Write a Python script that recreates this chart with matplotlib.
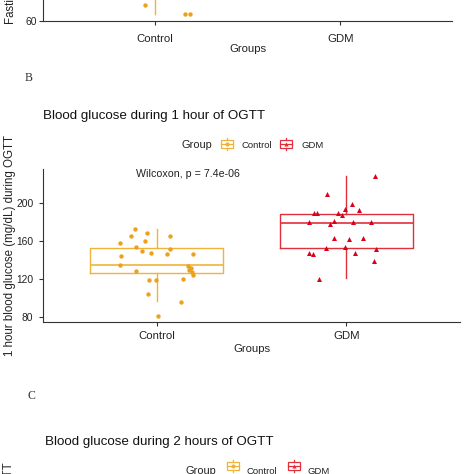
import matplotlib
matplotlib.use("Agg")
import matplotlib.pyplot as plt
from matplotlib.patches import Rectangle
from matplotlib.lines import Line2D

plt.rcParams['font.family'] = ['Liberation Sans', 'DejaVu Sans']

W = H = 474
def fx(x): return x / W
def fy(y): return 1 - y / H

groups = ["Control", "GDM"]
CTRL_PT = "#EBA11A"
CTRL_LN = "#F0B33A"
GDM_PT = "#D9001B"
GDM_LN = "#E0303C"
AX_COL = "#333333"
TXT_COL = "#222222"

# ---- Panel A (fasting glucose), only bottom part visible ----
a_ctrl_vals = [65.4, 62.3, 62.3]
a_ctrl_jit = [-0.052, 0.164, 0.190]
a_stats = [dict(med=80, q1=74, q3=86, whislo=62.3, whishi=100),
           dict(med=90, q1=84, q3=98, whislo=75, whishi=120)]
a_yticks = [60]

# ---- Panel B (1 hour OGTT) ----
b_ctrl_vals = [173, 168.4, 165.3, 165.3, 158.3, 160, 153.7, 151.2, 149.1, 147.3,
               146.6, 146.6, 144.1, 134.6, 133.2, 131.1, 128.9, 127.9, 127.1, 124.4,
               118.3, 119, 120.1, 104.2, 95.4, 80.5]
b_ctrl_jit = [-0.115, -0.053, -0.136, 0.070, -0.194, -0.062, -0.111, 0.070, -0.076, -0.032,
              0.053, 0.190, -0.188, -0.194, 0.167, 0.179, 0.172, -0.111, 0.185, 0.190,
              -0.041, -0.004, 0.137, -0.047, 0.128, 0.008]
b_gdm_vals = [228.6, 209.2, 198.9, 192.6, 193.3, 189.7, 189, 189, 187.6, 179.9,
              180.9, 178.4, 179.9, 180.2, 163.6, 161.8, 163.6, 152.6, 153.7, 151.2,
              147.6, 145.9, 147.6, 138.5, 120.1]
b_gdm_jit = [0.149, -0.102, 0.032, 0.065, -0.007, -0.169, -0.157, -0.044, -0.025, -0.199,
             -0.065, -0.088, 0.035, 0.132, -0.067, 0.012, 0.086, -0.108, -0.005, 0.155,
             -0.199, -0.178, 0.044, 0.148, -0.146]
b_stats = [dict(med=135, q1=126.5, q3=152.6, whislo=96, whishi=173),
           dict(med=178.5, q1=152.6, q3=188.3, whislo=120.8, whishi=228.6)]
b_yticks = [80, 120, 160, 200]
b_pvalue = "Wilcoxon, p = 7.4e-06"

fig = plt.figure(figsize=(4.74, 4.74), dpi=100)
fig.patch.set_facecolor("white")


def style_axes(ax, ylim, yticks, ypad, xpad, ytick_size=7.4, xtick_size=8.2):
    ax.set_xlim(0.4, 2.6)
    ax.set_ylim(*ylim)
    ax.set_yticks(yticks)
    ax.set_xticks([1, 2])
    ax.set_xticklabels(groups)
    for s in ["top", "right"]:
        ax.spines[s].set_visible(False)
    for s in ["left", "bottom"]:
        ax.spines[s].set_color(AX_COL)
        ax.spines[s].set_linewidth(0.8)
    ax.tick_params(axis="y", length=3, width=0.8, color=AX_COL, labelcolor=TXT_COL,
                   labelsize=ytick_size, pad=ypad)
    ax.tick_params(axis="x", length=3, width=0.8, color=AX_COL, labelcolor=TXT_COL,
                   labelsize=xtick_size, pad=xpad)
    ax.set_facecolor("none")


def draw_box(ax, stats):
    bp = ax.bxp(stats, positions=[1, 2], widths=0.7, showfliers=False, showcaps=False,
                patch_artist=False, manage_ticks=False)
    cols = [CTRL_LN, GDM_LN]
    for i, c in enumerate(cols):
        bp["boxes"][i].set(color=c, linewidth=1.0)
        bp["medians"][i].set(color=c, linewidth=1.2)
        bp["whiskers"][2 * i].set(color=c, linewidth=1.0)
        bp["whiskers"][2 * i + 1].set(color=c, linewidth=1.0)
    return bp


# Panel A axes (mostly above the visible area)
ax_a = fig.add_axes([fx(43), fy(21), fx(452) - fx(43), 321 / H])
draw_box(ax_a, a_stats)
ax_a.scatter([1 + j for j in a_ctrl_jit], a_ctrl_vals, s=10, color=CTRL_PT, marker="o",
             linewidths=0, zorder=3, clip_on=False)
style_axes(ax_a, (59.9, 59.9 + 321 / 3.0), a_yticks, ypad=1.5, xpad=6)
fig.text(fx(247.5), fy(51.5), "Groups", ha="center", va="baseline", fontsize=8.1, color=TXT_COL)
fig.text(fx(11), fy(24), "Fasting blood glucose (mg/dL)", rotation=90, ha="center", va="bottom",
         fontsize=8.3, color=TXT_COL)

# Panel labels
fig.text(fx(25), fy(81), "B", family=["Liberation Serif"], fontsize=8.5, ha="left", va="baseline",
         color="#333333")
fig.text(fx(27), fy(399), "C", family=["Liberation Serif"], fontsize=8.5, ha="left", va="baseline",
         color="#333333")

# Panel B
ax_b = fig.add_axes([fx(43), fy(322), fx(460) - fx(43), 153 / H])
draw_box(ax_b, b_stats)
ax_b.scatter([1 + j for j in b_ctrl_jit], b_ctrl_vals, s=10, color=CTRL_PT, marker="o",
             linewidths=0, zorder=3)
ax_b.scatter([2 + j for j in b_gdm_jit], b_gdm_vals, s=13, color=GDM_PT, marker="^",
             linewidths=0, zorder=3)
style_axes(ax_b, (74.3, 236), b_yticks, ypad=4.0, xpad=3.5)
fig.text(fx(251.5), fy(351.5), "Groups", ha="center", va="baseline", fontsize=8.1, color=TXT_COL)
fig.text(fx(10), fy(245), "1 hour blood glucose (mg/dL) during OGTT", rotation=90, ha="center",
         va="center", fontsize=8.3, color=TXT_COL)
fig.text(fx(43), fy(118.5), "Blood glucose during 1 hour of OGTT", ha="left", va="baseline",
         fontsize=9.6, color="#111111")
fig.text(fx(136), fy(177), b_pvalue, ha="left", va="baseline", fontsize=7.7, color=TXT_COL)


def legend_key(x0, y0, w, h, col, marker):
    cx = x0 + w / 2
    fig.add_artist(Rectangle((fx(x0 + 1), fy(y0 + h * 0.8)), (w - 2) / W, h * 0.6 / H,
                             fill=False, edgecolor=col, linewidth=0.9, transform=fig.transFigure))
    fig.add_artist(Line2D([fx(x0 + 1), fx(x0 + w - 1)], [fy(y0 + h / 2)] * 2, color=col,
                          linewidth=0.9, transform=fig.transFigure))
    fig.add_artist(Line2D([fx(cx)] * 2, [fy(y0), fy(y0 + h * 0.2)], color=col,
                          linewidth=0.9, transform=fig.transFigure))
    fig.add_artist(Line2D([fx(cx)] * 2, [fy(y0 + h * 0.8), fy(y0 + h)], color=col,
                          linewidth=0.9, transform=fig.transFigure))
    fig.add_artist(Line2D([fx(cx)], [fy(y0 + h / 2)], marker=marker, markersize=3.0,
                          color=col, markeredgewidth=0, linestyle="none", transform=fig.transFigure))


def legend(x_group, x_k1, x_t1, x_k2, x_t2, ytop, base):
    fig.text(fx(x_group), fy(base), "Group", ha="left", va="baseline", fontsize=7.9, color=TXT_COL)
    legend_key(x_k1, ytop, 14, 12, CTRL_LN, "o")
    fig.text(fx(x_t1), fy(base), groups[0], ha="left", va="baseline", fontsize=6.8, color=TXT_COL)
    legend_key(x_k2, ytop, 14, 12, GDM_LN, "^")
    fig.text(fx(x_t2), fy(base), groups[1], ha="left", va="baseline", fontsize=6.8, color=TXT_COL)


legend(182, 220, 242, 279, 301, 138, 147.5)

# Panel C (only the top part visible)
fig.text(fx(45), fy(445), "Blood glucose during 2 hours of OGTT", ha="left", va="baseline",
         fontsize=9.6, color="#111111")
legend(186, 226, 247, 287, 308, 460, 473.5)
fig.text(fx(9), fy(462), "2 hours blood glucose (mg/dL) during OGTT", rotation=90, ha="center",
         va="top", fontsize=8.3, color=TXT_COL)

fig.savefig("out.png", dpi=100, facecolor="white")
